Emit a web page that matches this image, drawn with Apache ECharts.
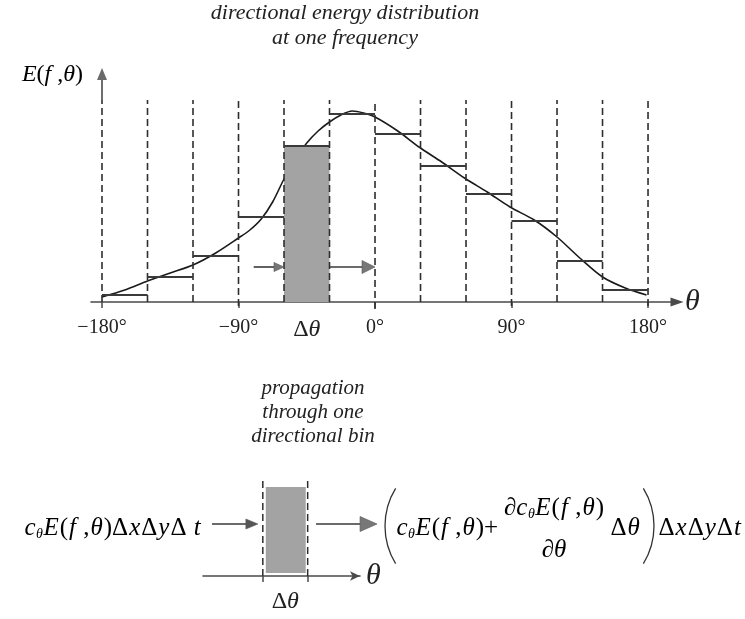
<!DOCTYPE html>
<html><head><meta charset="utf-8">
<script src="https://cdn.jsdelivr.net/npm/echarts@6/dist/echarts.min.js"></script>
<style>html,body{margin:0;padding:0;background:#fff}#c{width:745px;height:619px}</style>
</head><body><div id="c"></div>
<script>
// ---------- data ----------
const binEdges = [-180,-150,-120,-90,-60,-30,0,30,60,90,120,150,180];
const binValues = [7,25,46,85,156,188,168,136,108,81,41,12];
const shadedBin = [-60,-30];
const curveTheta = [-180,-165,-150,-135,-120,-105,-90,-82.5,-75,-67.5,-60,-52.5,-45,-37.5,-30,-22.5,-15,-7.5,0,15,29,44,59,74,89,105,120,135,150,165,179];
const curveE =     [5,   12,  21,  29,  37,  49,  64,  72,   83,  100,  123, 143,  159, 171,  180, 187,  191, 189, 185,171,155,140,124,110,95, 82, 65, 44, 25, 14, 7];
const tickValues = [-180,-90,0,90,180];
const tickLabels = ['−180°','−90°','0°','90°','180°'];
const guideTop = 202;
const axisTopE = 234;
const flowInTop = [-80,-60,35];
const flowOutTop = [-30,0,35];
// lower panel (one bin)
const detailEdges = [-60,-30];
const detailFill = [-58,-31.3,3,89];
const detailGuideTop = 98;
const flowInDetail = [-94,-63.3,52];
const flowOutDetail = [-24.4,16.4,52];

const SERIF = "'Liberation Serif','DejaVu Serif',serif";
const INK = '#222';

function arrowRender(headLen, headW, lineColor, headColor){
  return function(params, api){
    const a = api.coord([api.value(0), api.value(2)]);
    const b = api.coord([api.value(1), api.value(2)]);
    return {type:'group', children:[
      {type:'line', shape:{x1:a[0],y1:a[1],x2:b[0]-headLen+1,y2:b[1]}, style:{stroke:lineColor,lineWidth:1.6}},
      {type:'polygon', shape:{points:[[b[0],b[1]],[b[0]-headLen,b[1]-headW/2],[b[0]-headLen,b[1]+headW/2]]},
       style:{fill:headColor, stroke:'#555', lineWidth:0.6}}
    ]};
  };
}

const FS = 25;
const rich = {
  i:{fontFamily:SERIF,fontStyle:'italic',fontSize:FS,color:INK,lineHeight:30,verticalAlign:'bottom',padding:[0,0.5,0,0.5]},
  n:{fontFamily:SERIF,fontSize:FS,color:INK,lineHeight:30,verticalAlign:'bottom',padding:[0,0.5,0,0.5]},
  s:{fontFamily:SERIF,fontStyle:'italic',fontSize:14,color:INK,lineHeight:13,verticalAlign:'bottom'}
};
const richE = {
  i:{fontFamily:SERIF,fontStyle:'italic',fontSize:24,color:INK},
  n:{fontFamily:SERIF,fontSize:24,color:INK}
};

const chart = echarts.init(document.getElementById('c'), null, {renderer:'canvas'});
chart.setOption({
  backgroundColor:'#fff',
  animation:false,
  grid:[
    {left:91, right:68, top:68, bottom:317},
    {left:203, right:385, top:478, bottom:43}
  ],
  xAxis:[
    {type:'value', gridIndex:0, min:-187.25, max:199.1,
     splitLine:{show:false},
     axisLine:{show:true, symbol:['none','triangle'], symbolSize:[9,13],
               lineStyle:{color:'#4a4a4a', width:1.6}},
     axisTick:{show:true, customValues:tickValues, length:6, lineStyle:{color:'#4a4a4a',width:1.5}},
     axisLabel:{show:true, customValues:[-180,-90,-45,0,90,180], margin:16,
       fontFamily:SERIF, fontSize:20, color:INK,
       formatter:function(v){
         if (v === -45) return '{d|Δ}{t|θ}';
         const k = tickValues.indexOf(v); return k>=0 ? tickLabels[k] : '';
       },
       rich:{d:{fontFamily:SERIF,fontSize:24,color:INK}, t:{fontFamily:SERIF,fontStyle:'italic',fontSize:24,color:INK}}},
     name:'θ', nameLocation:'end', nameGap:8,
     nameTextStyle:{fontFamily:SERIF, fontStyle:'italic', fontSize:30, color:INK, verticalAlign:'middle', align:'left', padding:[6,0,0,0]}
    },
    {type:'value', gridIndex:1, min:-100, max:5,
     splitLine:{show:false},
     axisLine:{show:true, symbol:['none','arrow'], symbolSize:[7,10], lineStyle:{color:'#4a4a4a', width:1.6}},
     axisTick:{show:true, customValues:detailEdges, length:6, lineStyle:{color:'#4a4a4a',width:1.5}},
     axisLabel:{show:true, customValues:[-45], margin:14,
       formatter:function(){ return '{d|Δ}{t|θ}'; },
       rich:{d:{fontFamily:SERIF,fontSize:24,color:INK}, t:{fontFamily:SERIF,fontStyle:'italic',fontSize:24,color:INK}}},
     name:'θ', nameLocation:'end', nameGap:6,
     nameTextStyle:{fontFamily:SERIF, fontStyle:'italic', fontSize:30, color:INK, verticalAlign:'middle', align:'left', padding:[4,0,0,0]}
    }
  ],
  yAxis:[
    {type:'value', gridIndex:0, min:0, max:axisTopE, show:false},
    {type:'value', gridIndex:1, min:0, max:detailGuideTop, show:false}
  ],
  series:[
    {type:'line', name:'E', xAxisIndex:0, yAxisIndex:0, z:2,
     data:curveTheta.map((t,i)=>[t,curveE[i]]), smooth:0.3, showSymbol:false,
     lineStyle:{color:'#1a1a1a', width:1.6}},
    {type:'custom', name:'shaded', xAxisIndex:0, yAxisIndex:0, z:3,
     data:[[shadedBin[0], shadedBin[1], binValues[binEdges.indexOf(shadedBin[0])]]],
     renderItem:function(p, api){
       const a = api.coord([api.value(0), 0]), b = api.coord([api.value(1), api.value(2)]);
       return {type:'rect', shape:{x:a[0], y:b[1], width:b[0]-a[0], height:a[1]-b[1]}, style:{fill:'#a3a3a3'}};
     }},
    {type:'custom', name:'guides', xAxisIndex:0, yAxisIndex:0, z:4, clip:false,
     data:binEdges.map(x=>[x]),
     renderItem:function(p, api){
       const x = api.value(0);
       const lo = x===0 ? -7 : (tickValues.indexOf(x)>=0 && x!==-180 ? -4 : 0);
       const a = api.coord([x, lo]), b = api.coord([x, guideTop]);
       return {type:'line', shape:{x1:a[0],y1:a[1],x2:b[0],y2:b[1]}, style:{stroke:'#2e2e2e', lineWidth:1.6, lineDash:[7,4]}};
     }},
    {type:'custom', name:'eAxis', xAxisIndex:0, yAxisIndex:0, z:4, clip:false,
     data:[[-180, guideTop, axisTopE]],
     renderItem:function(p, api){
       const a = api.coord([api.value(0), api.value(1)]), b = api.coord([api.value(0), api.value(2)]);
       return {type:'group', children:[
         {type:'line', shape:{x1:a[0],y1:a[1],x2:b[0],y2:b[1]+10}, style:{stroke:'#4a4a4a', lineWidth:1.6}},
         {type:'polygon', shape:{points:[[b[0],b[1]],[b[0]-5,b[1]+12],[b[0]+5,b[1]+12]]}, style:{fill:'#6a6a6a'}}
       ]};
     }},
    {type:'custom', name:'steps', xAxisIndex:0, yAxisIndex:0, z:5,
     data:binValues.map((v,i)=>[binEdges[i], binEdges[i+1], v]),
     renderItem:function(p, api){
       const a = api.coord([api.value(0), api.value(2)]), b = api.coord([api.value(1), api.value(2)]);
       return {type:'line', shape:{x1:a[0],y1:a[1],x2:b[0],y2:b[1]}, style:{stroke:'#3a3a3a', lineWidth:2}};
     }},
    {type:'custom', name:'inTop', xAxisIndex:0, yAxisIndex:0, z:5, clip:false,
     data:[flowInTop], renderItem:arrowRender(10,9,'#3a3a3a','#777')},
    {type:'custom', name:'outTop', xAxisIndex:0, yAxisIndex:0, z:5, clip:false,
     data:[flowOutTop], renderItem:arrowRender(13,13,'#3a3a3a','#777')},
    // lower panel
    {type:'custom', name:'detailFill', xAxisIndex:1, yAxisIndex:1, z:3,
     data:[detailFill],
     renderItem:function(p, api){
       const a = api.coord([api.value(0), api.value(2)]), b = api.coord([api.value(1), api.value(3)]);
       return {type:'rect', shape:{x:a[0], y:b[1], width:b[0]-a[0], height:a[1]-b[1]}, style:{fill:'#a3a3a3'}};
     }},
    {type:'custom', name:'detailGuides', xAxisIndex:1, yAxisIndex:1, z:4,
     data:detailEdges.map(x=>[x]),
     renderItem:function(p, api){
       const a = api.coord([api.value(0), 0]), b = api.coord([api.value(0), detailGuideTop]);
       return {type:'line', shape:{x1:a[0],y1:a[1],x2:b[0],y2:b[1]}, style:{stroke:'#2e2e2e', lineWidth:1.5, lineDash:[7,4]}};
     }},
    {type:'custom', name:'inDetail', xAxisIndex:1, yAxisIndex:1, z:5, clip:false,
     data:[flowInDetail], renderItem:arrowRender(12,10,'#3a3a3a','#555')},
    {type:'custom', name:'outDetail', xAxisIndex:1, yAxisIndex:1, z:5, clip:false,
     data:[flowOutDetail], renderItem:arrowRender(17,15,'#3a3a3a','#777')}
  ],
  graphic:[
    {type:'text', x:345, y:1, style:{text:'directional energy distribution\nat one frequency',
      font:"italic 22px 'Liberation Serif'", fill:INK, align:'center', verticalAlign:'top', lineHeight:25}},
    {type:'text', x:83, y:75, style:{text:'{i|E}{n|(}{i|f }{n|,}{i|θ}{n|)}', rich:richE, align:'right', verticalAlign:'middle'}},
    {type:'text', x:313, y:412, style:{text:'propagation\nthrough one\ndirectional bin',
      font:"italic 21px 'Liberation Serif'", fill:INK, align:'center', verticalAlign:'middle', lineHeight:24}},
    {type:'text', x:24, y:526, style:{text:'{i|c}{s|θ}{i|E}{n|(}{i|f }{n|,}{i|θ}{n|)Δ}{i|x}{n|Δ}{i|y}{n|Δ}{i| t}',
      rich:rich, verticalAlign:'middle'}},
    {type:'arc', shape:{cx:457, cy:526, r:72, startAngle:Math.PI-0.55, endAngle:Math.PI+0.55}, style:{stroke:'#333', lineWidth:1.3, fill:null}},
    {type:'text', x:396, y:526, style:{text:'{i|c}{s|θ}{i|E}{n|(}{i|f }{n|,}{i|θ}{n|)+}', rich:rich, verticalAlign:'middle'}},
    {type:'text', x:554, y:506, style:{text:'{i|∂c}{s|θ}{i|E}{n|(}{i|f }{n|,}{i|θ}{n|)}', rich:rich, align:'center', verticalAlign:'middle'}},
    {type:'text', x:554, y:548, style:{text:'{i|∂θ}', rich:rich, align:'center', verticalAlign:'middle'}},
    {type:'text', x:610, y:526, style:{text:'{n|Δ}{i|θ}', rich:rich, verticalAlign:'middle'}},
    {type:'arc', shape:{cx:582, cy:526, r:72, startAngle:-0.55, endAngle:0.55}, style:{stroke:'#333', lineWidth:1.3, fill:null}},
    {type:'text', x:658, y:526, style:{text:'{n|Δ}{i|x}{n|Δ}{i|y}{n|Δ}{i|t}', rich:rich, verticalAlign:'middle'}}
  ]
});
</script></body></html>
